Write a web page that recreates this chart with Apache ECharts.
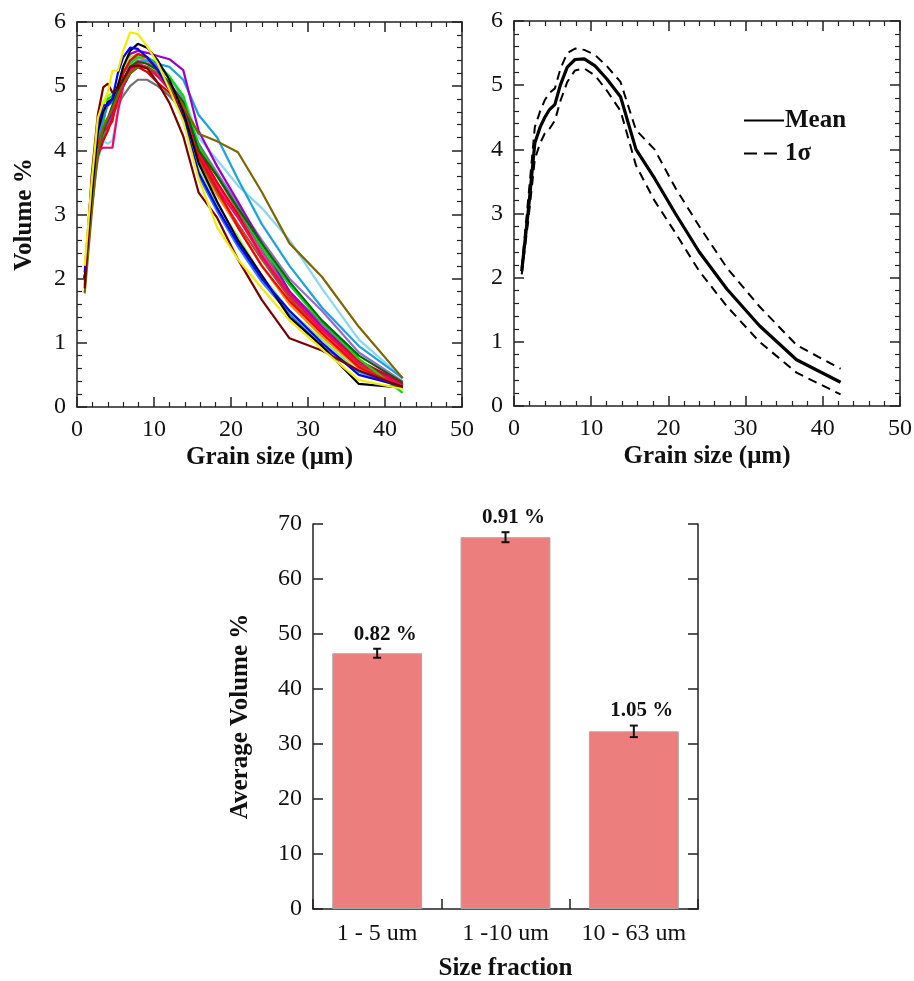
<!DOCTYPE html>
<html><head><meta charset="utf-8">
<script src="https://cdn.jsdelivr.net/npm/echarts@6/dist/echarts.min.js"></script>
<style>html,body{margin:0;padding:0;background:#fff}#c{width:914px;height:981px}</style>
</head><body><div id="c"></div>
<script>
// ---------- data ----------
const grainSize = [1.0, 1.9, 2.7, 3.4, 4.0, 4.6, 5.3, 6.0, 6.9, 7.9, 9.1, 10.5, 12.0, 13.8, 15.8, 18.2, 20.9, 24.0, 27.6, 31.8, 36.6, 42.3];

const sYellow     = [2.2, 3.5, 4.5, 4.75, 4.9, 5.24, 5.24, 5.55, 5.84, 5.81, 5.62, 5.35, 4.95, 4.45, 3.55, 2.8, 2.3, 1.85, 1.35, 0.9, 0.42, 0.28];
const sBlack      = [2.0, 3.3, 4.3, 4.6, 4.75, 4.8, 5.0, 5.3, 5.55, 5.66, 5.6, 5.4, 5.1, 4.6, 3.8, 3.2, 2.6, 2.05, 1.4, 0.95, 0.36, 0.3];
const sBlue       = [2.1, 3.5, 4.4, 4.7, 4.7, 4.8, 5.2, 5.45, 5.6, 5.58, 5.45, 5.25, 4.95, 4.5, 3.65, 3.1, 2.55, 2.0, 1.5, 1.0, 0.5, 0.32];
const sPurple     = [2.0, 3.2, 4.1, 4.3, 4.45, 4.6, 4.9, 5.3, 5.5, 5.55, 5.52, 5.47, 5.42, 5.25, 4.3, 3.75, 3.2, 2.55, 1.8, 1.25, 0.72, 0.38];
const sLime       = [1.9, 3.1, 4.0, 4.4, 4.8, 4.85, 5.0, 5.2, 5.35, 5.45, 5.45, 5.35, 5.15, 4.85, 4.05, 3.6, 3.1, 2.5, 1.9, 1.32, 0.75, 0.22];
const sDarkGreen  = [2.0, 3.2, 4.0, 4.3, 4.5, 4.7, 4.9, 5.1, 5.3, 5.38, 5.35, 5.25, 5.05, 4.75, 4.0, 3.6, 3.1, 2.55, 1.95, 1.35, 0.8, 0.38];
const sRed        = [2.0, 3.3, 4.1, 4.3, 4.35, 4.45, 4.9, 5.2, 5.4, 5.5, 5.45, 5.25, 5.0, 4.55, 3.9, 3.4, 2.8, 2.2, 1.65, 1.15, 0.62, 0.3];
const sRed2       = [2.0, 3.2, 3.9, 4.15, 4.3, 4.5, 4.8, 5.0, 5.2, 5.3, 5.22, 5.05, 4.9, 4.6, 4.0, 3.5, 3.0, 2.35, 1.75, 1.2, 0.72, 0.35];
const sCrimson    = [2.0, 3.2, 4.0, 4.04, 4.04, 4.04, 4.6, 5.0, 5.25, 5.35, 5.3, 5.15, 4.95, 4.65, 3.95, 3.4, 2.95, 2.35, 1.75, 1.2, 0.68, 0.33];
const sMaroon     = [1.85, 3.6, 4.55, 4.98, 5.04, 4.9, 4.95, 5.1, 5.3, 5.32, 5.28, 5.05, 4.74, 4.22, 3.34, 2.95, 2.3, 1.67, 1.07, 0.88, 0.57, 0.31];
const sOlive      = [1.77, 3.0, 4.0, 4.35, 4.5, 4.65, 4.85, 5.05, 5.2, 5.3, 5.3, 5.2, 5.0, 4.7, 4.26, 4.14, 3.97, 3.35, 2.55, 2.03, 1.25, 0.45];
const sSkyBlue    = [2.0, 3.2, 4.0, 4.3, 4.45, 4.6, 4.8, 5.0, 5.2, 5.35, 5.4, 5.35, 5.3, 5.1, 4.55, 4.2, 3.55, 2.85, 2.2, 1.55, 0.95, 0.45];
const sLightCyan  = [2.0, 3.1, 3.85, 4.15, 4.1, 4.15, 4.6, 5.0, 5.2, 5.3, 5.3, 5.25, 5.15, 4.85, 4.2, 3.85, 3.45, 3.1, 2.6, 1.85, 1.05, 0.45];
const sGray       = [2.0, 3.1, 3.9, 4.2, 4.4, 4.55, 4.7, 4.85, 5.0, 5.1, 5.1, 5.0, 4.85, 4.6, 4.1, 3.6, 3.05, 2.45, 1.8, 1.3, 0.72, 0.35];
const sOrange     = [2.0, 3.2, 4.0, 4.3, 4.5, 4.6, 4.9, 5.2, 5.4, 5.45, 5.4, 5.25, 5.0, 4.6, 3.8, 3.3, 2.8, 2.2, 1.6, 1.1, 0.6, 0.3];
const sChartreuse = [2.0, 3.4, 4.4, 4.7, 4.85, 4.9, 5.0, 5.3, 5.45, 5.5, 5.45, 5.3, 5.0, 4.5, 3.7, 3.15, 2.65, 2.05, 1.5, 1.05, 0.55, 0.3];
const sDodger     = [2.0, 3.3, 4.2, 4.5, 4.7, 4.75, 4.9, 5.2, 5.4, 5.5, 5.45, 5.3, 5.0, 4.5, 3.6, 3.05, 2.5, 1.95, 1.45, 0.95, 0.55, 0.3];
const sMedPurple  = [2.0, 3.1, 4.0, 4.3, 4.5, 4.6, 4.8, 5.1, 5.3, 5.4, 5.4, 5.3, 5.15, 4.8, 4.1, 3.65, 3.15, 2.6, 2.0, 1.5, 0.85, 0.4];
const sMagenta    = [2.0, 3.2, 4.0, 4.3, 4.4, 4.5, 4.8, 5.1, 5.3, 5.4, 5.35, 5.2, 5.0, 4.7, 3.95, 3.45, 3.0, 2.4, 1.8, 1.25, 0.7, 0.35];
const sBrown      = [1.95, 3.2, 4.1, 4.4, 4.5, 4.55, 4.75, 5.0, 5.2, 5.3, 5.28, 5.15, 4.95, 4.6, 3.85, 3.35, 2.85, 2.3, 1.7, 1.15, 0.65, 0.33];

const meanVolume  = [2.1, 3.1, 4.1, 4.35, 4.5, 4.62, 4.7, 5.0, 5.28, 5.4, 5.41, 5.3, 5.1, 4.82, 4.0, 3.55, 3.0, 2.4, 1.82, 1.25, 0.72, 0.37];
const upperSigma  = [2.15, 3.3, 4.35, 4.6, 4.77, 4.88, 4.95, 5.25, 5.5, 5.57, 5.55, 5.47, 5.3, 5.05, 4.3, 4.0, 3.4, 2.8, 2.15, 1.55, 0.95, 0.58];
const lowerSigma  = [2.05, 2.95, 3.85, 4.1, 4.25, 4.32, 4.45, 4.75, 5.05, 5.23, 5.26, 5.15, 4.92, 4.6, 3.75, 3.2, 2.7, 2.1, 1.55, 1.0, 0.52, 0.18];

const fractions   = ['1 - 5 um', '1 -10 um', '10 - 63 um'];
const avgVolume   = [46.5, 67.6, 32.3];
const volumeErr   = [0.82, 0.91, 1.05];
const errLabels   = ['0.82 %', '0.91 %', '1.05 %'];

const samples = [
  ['#ff8c00', sOrange], ['#a0522d', sBrown], ['#9966dd', sMedPurple], ['#ff33cc', sMagenta],
  ['#707070', sGray], ['#88d8f0', sLightCyan], ['#1aa3e0', sSkyBlue], ['#9900cc', sPurple],
  ['#e00000', sRed2], ['#ff0066', sCrimson], ['#99ee33', sChartreuse], ['#00e000', sLime],
  ['#2f7bff', sDodger], ['#ff0000', sRed], ['#006400', sDarkGreen], ['#7f6500', sOlive],
  ['#000000', sBlack], ['#0000ff', sBlue], ['#7a0000', sMaroon], ['#f5ec00', sYellow]
];

// ---------- styling helpers ----------
const FONT = '"Liberation Serif", "Times New Roman", serif';
const AX = '#222';
const zip = (ys) => grainSize.map((x, i) => [x, ys[i]]);

function valAxis(gridIndex, position, min, max, interval, showLabels, extra) {
  return Object.assign({
    type: 'value', gridIndex, position, min, max, interval,
    axisLine: { show: true, onZero: false, lineStyle: { color: AX, width: 1.5 } },
    axisTick: { show: true, inside: true, length: 10, lineStyle: { color: AX, width: 1.5 } },
    minorTick: { show: true, splitNumber: 5, length: 5, lineStyle: { color: AX, width: 1.2 } },
    splitLine: { show: false }, minorSplitLine: { show: false },
    axisLabel: { show: showLabels, margin: 11, color: '#111', fontFamily: FONT, fontSize: 24 },
    nameTextStyle: { fontFamily: FONT, fontSize: 25, fontWeight: 'bold', color: '#111' }
  }, extra || {});
}

const xAxes = [
  valAxis(0, 'bottom', 0, 50, 10, true, { name: 'Grain size (\u03bcm)', nameLocation: 'middle', nameGap: 38 }),
  valAxis(0, 'top', 0, 50, 10, false),
  valAxis(1, 'bottom', 0, 50, 10, true, { name: 'Grain size (\u03bcm)', nameLocation: 'middle', nameGap: 38 }),
  valAxis(1, 'top', 0, 50, 10, false),
  {
    type: 'category', gridIndex: 2, position: 'bottom', data: fractions,
    name: 'Size fraction', nameLocation: 'middle', nameGap: 47,
    nameTextStyle: { fontFamily: FONT, fontSize: 25, fontWeight: 'bold', color: '#111' },
    axisLine: { show: true, lineStyle: { color: AX, width: 1.5 } },
    axisTick: { show: true, inside: true, length: 10, interval: 0, lineStyle: { color: AX, width: 1.5 } },
    splitLine: { show: false },
    axisLabel: { interval: 0, margin: 13, color: '#111', fontFamily: FONT, fontSize: 24 }
  }
];
const yAxes = [
  valAxis(0, 'left', 0, 6, 1, true, { name: 'Volume %', nameLocation: 'middle', nameGap: 40 }),
  valAxis(0, 'right', 0, 6, 1, false),
  valAxis(1, 'left', 0, 6, 1, true),
  valAxis(1, 'right', 0, 6, 1, false),
  valAxis(2, 'left', 0, 70, 10, true, { name: 'Average Volume %', nameLocation: 'middle', nameGap: 60, minorTick: { show: false } }),
  valAxis(2, 'right', 0, 70, 10, false, { minorTick: { show: false } })
];

const series = [];
samples.forEach(([color, ys], i) => {
  series.push({
    type: 'line', name: 'sample' + (i + 1), xAxisIndex: 0, yAxisIndex: 0,
    data: zip(ys), symbol: 'none', showSymbol: false, silent: true,
    lineStyle: { color, width: 2.2 }, itemStyle: { color }
  });
});
series.push({
  type: 'line', name: '1\u03c3', xAxisIndex: 2, yAxisIndex: 2, data: zip(upperSigma),
  symbol: 'none', lineStyle: { color: '#000', width: 2, type: [9, 6] }, itemStyle: { color: '#000' }
});
series.push({
  type: 'line', name: '1\u03c3', xAxisIndex: 2, yAxisIndex: 2, data: zip(lowerSigma),
  symbol: 'none', lineStyle: { color: '#000', width: 2, type: [9, 6] }, itemStyle: { color: '#000' }
});
series.push({
  type: 'line', name: 'Mean', xAxisIndex: 2, yAxisIndex: 2, data: zip(meanVolume),
  symbol: 'none', lineStyle: { color: '#000', width: 3.2 }, itemStyle: { color: '#000' }
});
series.push({
  type: 'bar', xAxisIndex: 4, yAxisIndex: 4, data: avgVolume, barWidth: '70%',
  itemStyle: { color: '#ec7f7e', borderColor: '#a8a8a8', borderWidth: 1 }, silent: true
});
series.push({
  type: 'custom', xAxisIndex: 4, yAxisIndex: 4, silent: true, z: 5,
  data: avgVolume.map((v, i) => [i, v, volumeErr[i]]),
  renderItem: (params, api) => {
    const c = api.value(0), v = api.value(1), e = api.value(2);
    const top = api.coord([c, v + e]);
    const bot = api.coord([c, v - e]);
    const x = top[0], cap = 4;
    const ls = { stroke: '#111', lineWidth: 2 };
    return {
      type: 'group', children: [
        { type: 'line', shape: { x1: x, y1: top[1], x2: x, y2: bot[1] }, style: ls },
        { type: 'line', shape: { x1: x - cap, y1: top[1], x2: x + cap, y2: top[1] }, style: ls },
        { type: 'line', shape: { x1: x - cap, y1: bot[1], x2: x + cap, y2: bot[1] }, style: ls },
        { type: 'text', x: x + 8, y: top[1] - 4, style: {
            text: errLabels[params.dataIndex], align: 'center', verticalAlign: 'bottom',
            fontFamily: FONT, fontSize: 21, fontWeight: 'bold', fill: '#111' } }
      ]
    };
  }
});

const chart = echarts.init(document.getElementById('c'), null, { renderer: 'canvas' });
chart.setOption({
  animation: false,
  backgroundColor: '#fff',
  grid: [
    { left: 77, top: 22, width: 385, height: 385, containLabel: false, outerBoundsMode: 'none' },
    { left: 514, top: 21, width: 386, height: 385, containLabel: false, outerBoundsMode: 'none' },
    { left: 313, top: 524, width: 385, height: 385, containLabel: false, outerBoundsMode: 'none' }
  ],
  xAxis: xAxes,
  yAxis: yAxes,
  legend: {
    data: [
      { name: 'Mean' },
      { name: '1\u03c3', lineStyle: { type: [13, 7], width: 2 } }
    ],
    orient: 'vertical', left: 738, top: 103,
    itemWidth: 40, itemHeight: 14, itemGap: 8, selectedMode: false,
    itemStyle: { opacity: 0 },
    textStyle: { fontFamily: FONT, fontSize: 25, fontWeight: 'bold', color: '#111', padding: [0, 0, 0, -4] }
  },
  series
});
</script></body></html>
